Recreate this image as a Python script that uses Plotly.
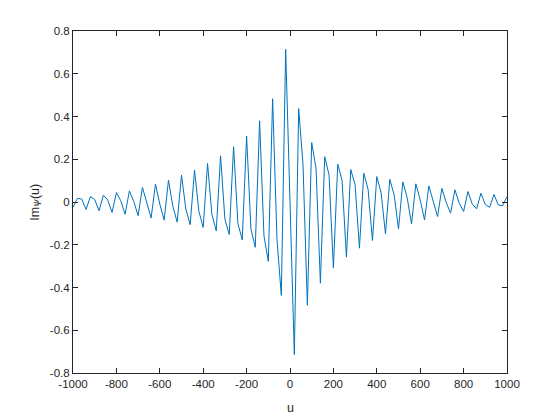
import plotly.graph_objects as go

u = list(range(-1000, 1001, 20))

im_psi = [
    -0.025, 0.017, 0.014, -0.035, 0.025, 0.012, -0.041, 0.032, 0.010, -0.049,
    0.044, 0.006, -0.057, 0.052, 0.003, -0.064, 0.068, -0.003, -0.075, 0.084,
    -0.010, -0.085, 0.102, -0.020, -0.094, 0.126, -0.033, -0.106, 0.149, -0.043,
    -0.119, 0.180, -0.058, -0.135, 0.216, -0.080, -0.152, 0.258, -0.101, -0.177,
    0.309, -0.127, -0.212, 0.380, -0.158, -0.278, 0.483, -0.175, -0.437, 0.714,
    0.0,
    -0.714, 0.437, 0.175, -0.483, 0.278, 0.158, -0.380, 0.212, 0.127, -0.309,
    0.177, 0.101, -0.258, 0.152, 0.080, -0.216, 0.135, 0.058, -0.180, 0.119,
    0.043, -0.149, 0.106, 0.033, -0.126, 0.094, 0.020, -0.102, 0.085, 0.010,
    -0.084, 0.075, 0.003, -0.068, 0.064, -0.003, -0.052, 0.057, -0.006, -0.044,
    0.049, -0.010, -0.032, 0.041, -0.012, -0.025, 0.035, -0.014, -0.017, 0.025,
]

x_ticks = [-1000, -800, -600, -400, -200, 0, 200, 400, 600, 800, 1000]
x_tick_labels = ["-1000", "-800", "-600", "-400", "-200", "0", "200", "400", "600", "800", "1000"]
y_ticks = [-0.8, -0.6, -0.4, -0.2, 0, 0.2, 0.4, 0.6, 0.8]
y_tick_labels = ["-0.8", "-0.6", "-0.4", "-0.2", "0", "0.2", "0.4", "0.6", "0.8"]

axis_color = "#262626"
font_family = "Liberation Sans, Arial, sans-serif"

fig = go.Figure()
fig.add_trace(go.Scatter(
    x=u, y=im_psi, mode="lines",
    line=dict(color="#0072BD", width=1),
    showlegend=False,
))

common = dict(
    showline=True, linecolor=axis_color, linewidth=1, mirror="allticks",
    ticks="inside", ticklen=5, tickcolor=axis_color, tickwidth=1,
    showgrid=False, zeroline=False, automargin=False,
    tickfont=dict(family=font_family, size=11.5, color=axis_color),
)

fig.update_layout(
    width=560, height=420,
    margin=dict(l=73, r=53, t=31, b=47, autoexpand=False),
    paper_bgcolor="white", plot_bgcolor="white",
    xaxis=dict(range=[-1000, 1000], tickvals=x_ticks, ticktext=x_tick_labels, **common),
    yaxis=dict(range=[-0.8, 0.8], tickvals=y_ticks, ticktext=y_tick_labels, **common),
    annotations=[
        dict(
            text="u", xref="paper", yref="paper", x=0.5, y=-0.102,
            xanchor="center", yanchor="middle", showarrow=False,
            font=dict(family=font_family, size=12.5, color=axis_color),
        ),
        dict(
            text="Im<span style='font-family:DejaVu Serif;font-style:italic;font-size:10px'>ψ</span>(u)",
            xref="paper", yref="paper", x=-0.088, y=0.5, textangle=-90,
            xanchor="center", yanchor="middle", showarrow=False,
            font=dict(family=font_family, size=12.5, color=axis_color),
        ),
    ],
)

fig.write_html(
    "out.html",
    config={"staticPlot": True, "displayModeBar": False},
    post_script="document.body.style.margin='0';",
)
